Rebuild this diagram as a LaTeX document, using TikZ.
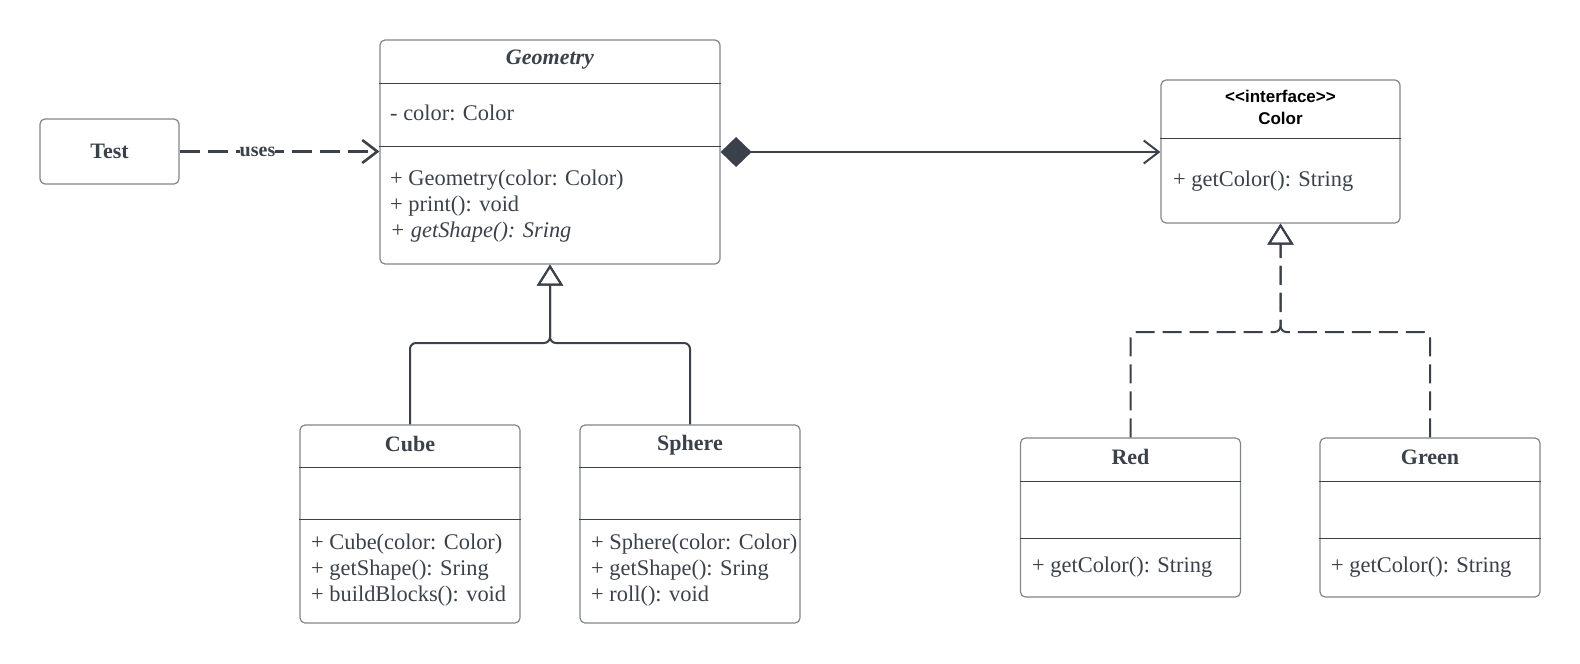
\documentclass[tikz,border=0pt]{standalone}
\usepackage{fontspec}
\setmainfont{Liberation Serif}
\newfontfamily\umlsans{Liberation Sans}
\usepackage{tikz}
\usetikzlibrary{arrows.meta,positioning,calc}
\definecolor{umlink}{HTML}{3A414A}
\definecolor{umlframe}{HTML}{80858C}

\begin{document}
\begin{tikzpicture}[
  x=1pt,y=-1pt,
  cls/.style 2 args={draw=umlframe,line width=1.2pt,rounded corners=5pt,inner sep=0pt,
                     minimum width=#1,minimum height=#2},
  ttl/.style={font=\fontsize{22}{26}\selectfont\bfseries,text=umlink,inner sep=0pt},
  mem/.style={anchor=west,align=left,font=\fontsize{22.4}{26}\selectfont,text=umlink,inner sep=0pt},
  sep/.style={draw=umlink,line width=0.9pt},
  gen/.style={draw=umlink,line width=2pt,rounded corners=6pt,
              -{Triangle[open,length=21pt,width=26pt]}},
  real/.style={gen,dash pattern=on 19pt off 8pt},
  dep/.style={draw=umlink,line width=2.6pt,dash pattern=on 20pt off 8pt,
              -{Straight Barb[length=15pt,width=23pt]}},
  comp/.style={draw=umlink,line width=2pt,
               {Diamond[length=31pt,width=30pt]}-{Straight Barb[length=15pt,width=23pt]}}
]
\useasboundingbox (0,0) rectangle (1580,664);

\node[cls={139pt}{65pt},ttl] (test) at (109.5,151.5) {Test};

\node[cls={340pt}{224pt}] (geometry) at (550,152) {};
\node[ttl] at (550,60) {\textit{Geometry}};
\draw[sep] (geometry.west |- 0,83) -- (geometry.east |- 0,83);
\node[mem] at (390,113) {- color: Color};
\draw[sep] (geometry.west |- 0,146) -- (geometry.east |- 0,146);
\node[mem] at (390,206) {+ Geometry(color: Color)\\+ print(): void\\\textit{+ getShape(): Sring}};

\node[cls={239pt}{143pt}] (color) at (1280.5,151.5) {};
\node[font=\umlsans\bfseries\fontsize{17}{22}\selectfont,align=center,inner sep=0pt] at (1280.5,107) {<<interface>>\\Color};
\draw[sep] (color.west |- 0,138) -- (color.east |- 0,138);
\node[mem] at (1173,181) {+ getColor(): String};

\node[cls={220pt}{198pt}] (cube) at (410,524) {};
\node[ttl] at (410,444) {Cube};
\draw[sep] (cube.west |- 0,467) -- (cube.east |- 0,467);
\draw[sep] (cube.west |- 0,519) -- (cube.east |- 0,519);
\node[mem] at (311,570) {+ Cube(color: Color)\\+ getShape(): Sring\\+ buildBlocks(): void};

\node[cls={220pt}{198pt}] (sphere) at (690,524) {};
\node[ttl] at (690,445) {Sphere};
\draw[sep] (sphere.west |- 0,467) -- (sphere.east |- 0,467);
\draw[sep] (sphere.west |- 0,519) -- (sphere.east |- 0,519);
\node[mem] at (591,570) {+ Sphere(color: Color)\\+ getShape(): Sring\\+ roll(): void};

\node[cls={220pt}{159pt}] (red) at (1130.5,517.5) {};
\node[ttl] at (1130.5,457) {Red};
\draw[sep] (red.west |- 0,481) -- (red.east |- 0,481);
\draw[sep] (red.west |- 0,538) -- (red.east |- 0,538);
\node[mem] at (1032,567) {+ getColor(): String};

\node[cls={220pt}{159pt}] (green) at (1430,517.5) {};
\node[ttl] at (1430,457) {Green};
\draw[sep] (green.west |- 0,481) -- (green.east |- 0,481);
\draw[sep] (green.west |- 0,538) -- (green.east |- 0,538);
\node[mem] at (1331,567) {+ getColor(): String};

\coordinate (genjoin) at (550,343);
\coordinate (realjoin) at (1280.5,332);

\draw[dep] (test.east) -- node[pos=0.39,fill=white,inner sep=0pt,
  font=\fontsize{20}{24}\selectfont\bfseries,text=umlink]{uses} (test.east -| geometry.west);
\draw[comp] (geometry.east) -- (geometry.east -| color.west);
\draw[gen] (cube.north) |- (genjoin) -- (geometry.south);
\draw[gen] (sphere.north) |- (genjoin) -- (geometry.south);
\draw[real] (red.north) |- (realjoin) -- (color.south);
\draw[real] (green.north) |- (realjoin) -- (color.south);
\end{tikzpicture}
\end{document}
